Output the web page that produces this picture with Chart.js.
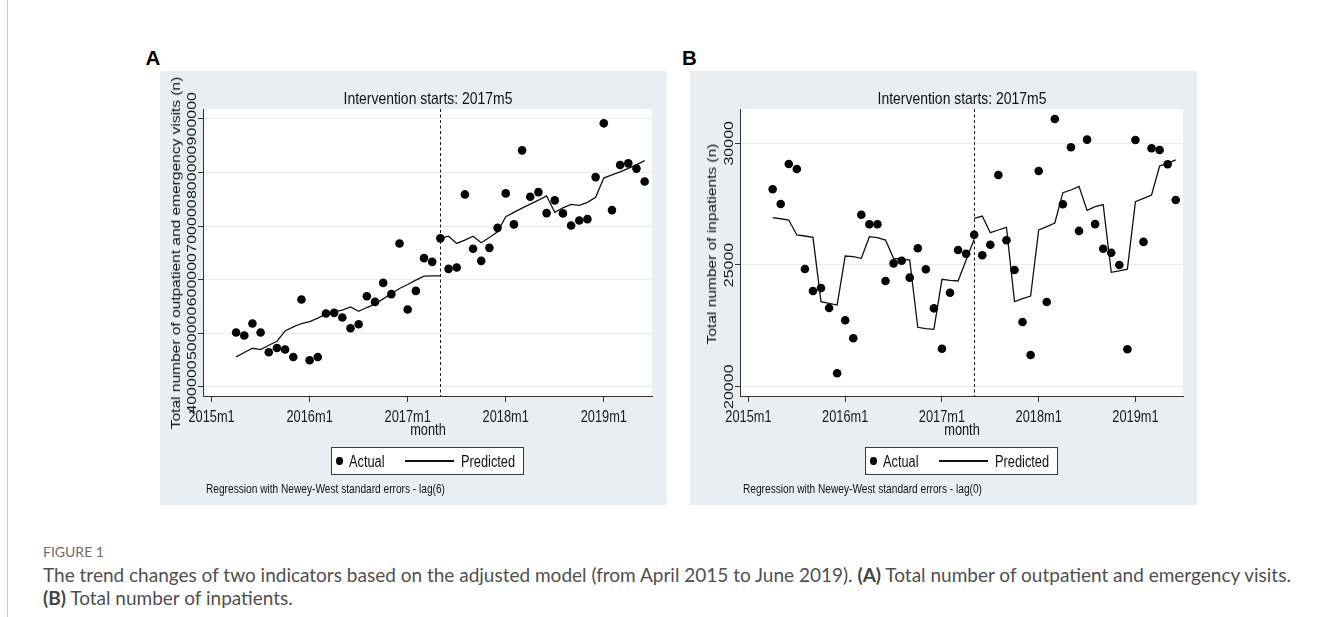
<!DOCTYPE html>
<html>
<head>
<meta charset="utf-8">
<title>Figure 1</title>
<script src="https://cdn.jsdelivr.net/npm/chart.js@4.4.0/dist/chart.umd.min.js"></script>
<style>
  html, body { margin: 0; padding: 0; background: #fff; }
  body { width: 1331px; height: 617px; position: relative; overflow: hidden;
         font-family: "Liberation Sans", Arial, sans-serif; }
  .rule { position: absolute; left: 7px; top: 0; width: 1px; height: 617px; background: #c9c9c9; }
  .panel { position: absolute; background: #e8eef1; }
  .panel canvas { position: absolute; left: 0; top: 0; }
  .txt { position: absolute; white-space: nowrap; color: #111; }
  .letter { position: absolute; font-weight: bold; color: #000; white-space: nowrap; }
  .legend { position: absolute; background: #fff; border: 1px solid #3a3a3a; box-sizing: border-box; }
  .legdot { position: absolute; background: #000; border-radius: 50%; }
  .legline { position: absolute; background: #111; }
  .fig { position: absolute; left: 43px; font-family: Lato, "Open Sans", sans-serif; color: #6b6b6b;
         white-space: nowrap; }
  .cap { position: absolute; left: 43px; font-family: Lato, "Open Sans", sans-serif; color: #4f4f4f;
         white-space: nowrap; }
  .cap b { font-weight: bold; color: #444; }
</style>
</head>
<body>
<div class="rule"></div>
<div class="panel" id="bgA"><canvas id="chartA" width="507" height="434"></canvas></div>
<div class="panel" id="bgB"><canvas id="chartB" width="507" height="434"></canvas></div>

<script>
// ---- data -------------------------------------------------------------
const months = [
  '2015m4','2015m5','2015m6','2015m7','2015m8','2015m9','2015m10','2015m11','2015m12',
  '2016m1','2016m2','2016m3','2016m4','2016m5','2016m6','2016m7','2016m8','2016m9','2016m10','2016m11','2016m12',
  '2017m1','2017m2','2017m3','2017m4','2017m5','2017m6','2017m7','2017m8','2017m9','2017m10','2017m11','2017m12',
  '2018m1','2018m2','2018m3','2018m4','2018m5','2018m6','2018m7','2018m8','2018m9','2018m10','2018m11','2018m12',
  '2019m1','2019m2','2019m3','2019m4','2019m5','2019m6'
];
const interventionMonth = '2017m5';
const xTickLabels = ['2015m1', '2016m1', '2017m1', '2018m1', '2019m1'];

// Panel A: outpatient and emergency visits
const visitsActual = [
  501500, 495900, 518300, 501500, 464700, 472800, 469800, 456000, 563100,
  449800, 456000, 537000, 538100, 529500, 509500, 517000, 569200, 558600, 594000, 573000, 667500,
  544400, 579100, 640100, 633200, 677000, 620100, 622800, 758900, 657500, 635100, 659300, 696600,
  760800, 703000, 841000, 754500, 763200, 724100, 747800, 723500, 701100, 710400, 712900, 791200,
  891400, 729700, 813600, 816800, 807000, 783000
];
// predicted values, 2015m4 .. 2017m5
const visitsPredBefore = [
  456000, 464200, 472200, 469800, 477800, 485300, 504500, 511900, 518300,
  522000, 528200, 535600, 539900, 543100, 549300, 541200, 548100, 554300, 564200, 574300, 583600,
  591000, 599100, 606500, 607000, 607000
];
// predicted values, 2017m5 .. 2019m6
const visitsPredAfter = [
  677000, 681100, 667500, 673700, 681100, 668700, 678700, 689200,
  717200, 725400, 733400, 740900, 748300, 756300, 725400, 734000, 740300, 738400, 744000, 753400,
  789400, 795500, 801100, 807500, 814000, 822000
];
const visitsTicks = [400000, 500000, 600000, 700000, 800000, 900000];

// Panel B: inpatients
const inpatientsActual = [
  28110, 27506, 29150, 28944, 24836, 23932, 24055, 23233, 20550,
  22728, 21988, 27067, 26672, 26672, 24343, 25068, 25177, 24480, 25686, 24823, 23220,
  21561, 23862, 25616, 25464, 26245, 25399, 25834, 28698, 26015, 24795, 22658, 21302,
  28862, 23480, 31000, 27494, 29836, 26400, 30150, 26680, 25670, 25505, 25000, 21536,
  30136, 25950, 29794, 29725, 29137, 27671
];
const inpatientsPredBefore = [
  26943, 26900, 26849, 26233, 26192, 26138, 23493, 23426, 23356,
  25370, 25342, 25274, 26164, 26122, 26027, 25274, 25247, 25205, 22440, 22385, 22358,
  24412, 24371, 24343, 25205, 26056
];
const inpatientsPredAfter = [
  26918, 27013, 26327, 26438, 26550, 23493, 23616, 23726,
  26438, 26574, 26725, 27970, 28081, 28230, 27245, 27396, 27480, 24700, 24760, 24830,
  27601, 27740, 27876, 29068, 29178, 29315
];
const inpatientsTicks = [20000, 25000, 30000];

// ---- helpers ----------------------------------------------------------
const SQ = 0.8;            // horizontal squeeze of the Stata lettering
const FONT = '"Liberation Sans", Arial, sans-serif';

function monthIndex(label) {
  const [yr, mo] = label.split('m').map(Number);
  return (yr - 2015) * 12 + (mo - 1);
}
function toPoints(labels, values) {
  return values.map((v, i) => ({ x: monthIndex(labels[i]), y: v }));
}
const cut = months.indexOf(interventionMonth);
const monthsBefore = months.slice(0, cut + 1);
const monthsAfter = months.slice(cut);

// horizontal text, positioned by its baseline
function addText(str, x, baseline, size, align, squeeze) {
  const d = document.createElement('div');
  d.className = 'txt';
  d.textContent = str;
  d.style.fontSize = size + 'px';
  d.style.lineHeight = size + 'px';
  d.style.top = (baseline - 0.8465 * size) + 'px';
  d.style.left = x + 'px';
  if (align === 'center') {
    d.style.transformOrigin = '50% 50%';
    d.style.transform = 'translateX(-50%) scaleX(' + squeeze + ')';
  } else {
    d.style.transformOrigin = '0 50%';
    d.style.transform = 'scaleX(' + squeeze + ')';
  }
  document.body.appendChild(d);
  return d;
}
// vertical text reading bottom to top, centred on (cx, cy)
function addVText(str, cx, cy, size, squeeze) {
  const d = document.createElement('div');
  d.className = 'txt';
  d.textContent = str;
  d.style.fontSize = size + 'px';
  d.style.lineHeight = size + 'px';
  d.style.left = cx + 'px';
  d.style.top = cy + 'px';
  d.style.transformOrigin = '0 0';
  d.style.transform = 'scaleX(' + squeeze + ') rotate(-90deg) translate(-50%, -50%)';
  document.body.appendChild(d);
  return d;
}

// ---- Stata-style plot decorations ------------------------------------
const stataPlugin = {
  id: 'stataLook',
  beforeDraw(chart) {
    const { ctx, chartArea: a } = chart;
    ctx.save();
    ctx.fillStyle = '#ffffff';
    ctx.fillRect(a.left, a.top, a.right - a.left, a.bottom - a.top);
    ctx.restore();
  },
  beforeDatasetsDraw(chart) {
    const { ctx, chartArea: a, scales: { x } } = chart;
    const px = Math.round(x.getPixelForValue(monthIndex(interventionMonth))) + 0.5;
    ctx.save();
    ctx.strokeStyle = '#1a1a1a';
    ctx.lineWidth = 1;
    ctx.setLineDash([3, 2.5]);
    ctx.beginPath();
    ctx.moveTo(px, a.top);
    ctx.lineTo(px, a.bottom);
    ctx.stroke();
    ctx.restore();
  },
  afterDraw(chart) {
    const { ctx, chartArea: a, scales: { x, y } } = chart;
    ctx.save();
    ctx.fillStyle = '#1a1a1a';
    ctx.font = '16px ' + FONT;
    ctx.textAlign = 'center';
    ctx.textBaseline = 'alphabetic';
    x.ticks.forEach((t, i) => {
      ctx.save();
      ctx.translate(x.getPixelForValue(t.value), a.bottom + 25.5);
      ctx.scale(SQ, 1);
      ctx.fillText(xTickLabels[i], 0, 0);
      ctx.restore();
    });
    y.ticks.forEach(t => {
      ctx.save();
      ctx.translate(a.left - 7.5, y.getPixelForValue(t.value));
      ctx.scale(SQ, 1);
      ctx.rotate(-Math.PI / 2);
      ctx.fillText(String(t.value), 0, 0);
      ctx.restore();
    });
    ctx.restore();
  }
};

function buildPanel(canvasId, actual, before, after, yTicks, yMin, yMax, yAxisWidth, padRight) {
  return new Chart(document.getElementById(canvasId), {
    type: 'scatter',
    data: {
      datasets: [
        { label: 'Actual', data: toPoints(months, actual), showLine: false,
          pointRadius: 4.3, pointHoverRadius: 4.3, pointBackgroundColor: '#000',
          pointBorderWidth: 0, order: 0 },
        { label: 'Predicted', data: toPoints(monthsBefore, before), showLine: true,
          pointRadius: 0, borderColor: '#111', borderWidth: 1.3, tension: 0, fill: false, order: 1 },
        { label: 'Predicted', data: toPoints(monthsAfter, after), showLine: true,
          pointRadius: 0, borderColor: '#111', borderWidth: 1.3, tension: 0, fill: false, order: 1 }
      ]
    },
    options: {
      responsive: false,
      animation: false,
      devicePixelRatio: 1,
      layout: { padding: { left: 0, right: padRight, top: 38, bottom: 0 } },
      plugins: { legend: { display: false }, tooltip: { enabled: false }, title: { display: false } },
      scales: {
        x: {
          type: 'linear', min: -1.05, max: 53.9,
          afterBuildTicks: s => { s.ticks = xTickLabels.map(l => ({ value: monthIndex(l) })); },
          afterFit: s => { s.height = 109; },
          ticks: { display: false },
          grid: { drawOnChartArea: false, drawTicks: true, tickLength: 6, tickColor: '#333', tickWidth: 1 },
          border: { display: true, color: '#333', width: 1 }
        },
        y: {
          type: 'linear', min: yMin, max: yMax,
          afterBuildTicks: s => { s.ticks = yTicks.map(v => ({ value: v })); },
          afterFit: s => { s.width = yAxisWidth; },
          ticks: { display: false },
          grid: { color: '#e6edf0', lineWidth: 1, drawTicks: true, tickLength: 5, tickColor: '#333', tickWidth: 1 },
          border: { display: true, color: '#333', width: 1 }
        }
      }
    },
    plugins: [stataPlugin]
  });
}

// ---- layout -----------------------------------------------------------
const panels = [
  { bg: 'bgA', left: 160, plotLeft: 203, plotRight: 652, letter: 'A', letterX: 145.5,
    yTitle: 'Total number of outpatient and emergency visits (n)', yTitleX: 175.5, yTitleY: 252.5,
    note: 'Regression with Newey-West standard errors - lag(6)', noteX: 206 },
  { bg: 'bgB', left: 690, plotLeft: 740, plotRight: 1183, letter: 'B', letterX: 682,
    yTitle: 'Total number of inpatients (n)', yTitleX: 711.5, yTitleY: 244,
    note: 'Regression with Newey-West standard errors - lag(0)', noteX: 743 }
];

panels.forEach(p => {
  const el = document.getElementById(p.bg);
  el.style.left = p.left + 'px';
  el.style.top = '71px';
  el.style.width = '507px';
  el.style.height = '434px';

  const cx = (p.plotLeft + p.plotRight) / 2;
  const l = document.createElement('div');
  l.className = 'letter';
  l.textContent = p.letter;
  l.style.fontSize = '20.5px';
  l.style.lineHeight = '20.5px';
  l.style.left = p.letterX + 'px';
  l.style.top = (65 - 0.8465 * 20.5) + 'px';
  document.body.appendChild(l);

  addText('Intervention starts: ' + interventionMonth, cx, 104, 17, 'center', 0.82);
  addText('month', cx, 436, 16, 'center', SQ);
  addVText(p.yTitle, p.yTitleX, p.yTitleY, 15.5, SQ);

  // legend
  const bx = cx - 96.5;
  const box = document.createElement('div');
  box.className = 'legend';
  Object.assign(box.style, { left: bx + 'px', top: '447px', width: '193px', height: '28px' });
  document.body.appendChild(box);
  const dot = document.createElement('div');
  dot.className = 'legdot';
  Object.assign(dot.style, { left: (bx + 8.7 - 3.4) + 'px', top: (461 - 4.2) + 'px', width: '6.8px', height: '8.4px' });
  document.body.appendChild(dot);
  addText('Actual', bx + 18, 467.5, 16, 'left', SQ);
  const ln = document.createElement('div');
  ln.className = 'legline';
  Object.assign(ln.style, { left: (bx + 74) + 'px', top: '460.4px', width: '49px', height: '1.3px' });
  document.body.appendChild(ln);
  addText('Predicted', bx + 130.3, 467.5, 16, 'left', SQ);

  addText(p.note, p.noteX, 494, 12.7, 'left', SQ);
});

buildPanel('chartA', visitsActual, visitsPredBefore, visitsPredAfter, visitsTicks,
           383200, 918100, 43, 15);
buildPanel('chartB', inpatientsActual, inpatientsPredBefore, inpatientsPredAfter, inpatientsTicks,
           19618, 31409, 50, 14);

// ---- figure caption ---------------------------------------------------
const fig = document.createElement('div');
fig.className = 'fig';
fig.textContent = 'FIGURE 1';
Object.assign(fig.style, { fontSize: '14px', lineHeight: '14px', top: (556.5 - 0.85 * 14) + 'px' });
document.body.appendChild(fig);

const cap = document.createElement('div');
cap.className = 'cap';
cap.innerHTML = 'The trend changes of two indicators based on the adjusted model (from April 2015 to June 2019). ' +
  '<b>(A)</b> Total number of outpatient and emergency visits.<br><b>(B)</b> Total number of inpatients.';
Object.assign(cap.style, { fontSize: '19px', lineHeight: '22.5px', top: '564px' });
document.body.appendChild(cap);
</script>
</body>
</html>
